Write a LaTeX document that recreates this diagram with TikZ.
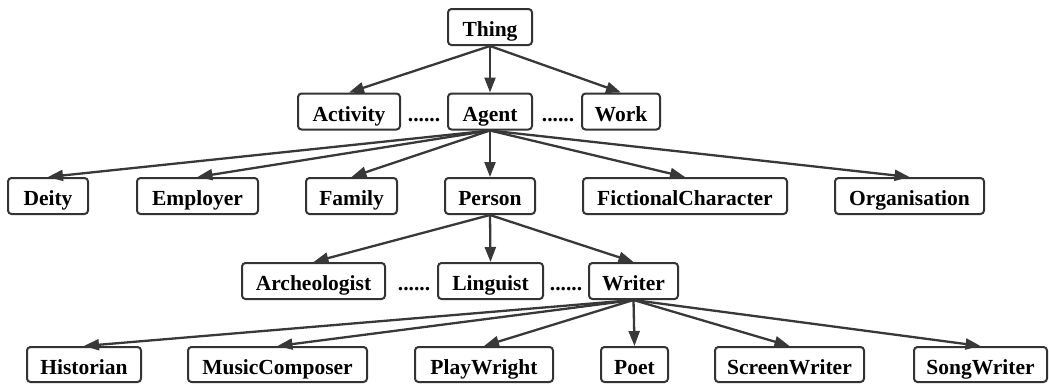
\documentclass[tikz,border=0pt]{standalone}
\usepackage{fontspec}
\setmainfont{Liberation Serif}
\usetikzlibrary{arrows.meta}
\definecolor{boxline}{HTML}{333333}
\definecolor{edgeline}{HTML}{383838}
\begin{document}
\begin{tikzpicture}[x=1pt,y=-1pt,
  box/.style={draw=boxline, line width=2pt, rounded corners=3.5pt, minimum height=36pt,
    inner xsep=0pt, inner ysep=0pt, text height=19pt, text depth=0pt,
    font=\fontsize{21.5}{24}\selectfont\bfseries, text=black},
  lastbox/.style={box, minimum height=35pt},
  dotsnode/.style={inner sep=0pt, font=\fontsize{21.5}{24}\selectfont\bfseries, text=black},
  edge/.style={draw=edgeline, line width=2.3pt, -{Triangle[length=15pt,width=11pt]}}]
\useasboundingbox (0,0) rectangle (1049,383);
% level 1
\node[box, minimum width=84pt] (Thing) at (490,27) {Thing};
% level 2
\node[box, minimum width=102pt] (Activity) at (349,111.5) {Activity};
\node[box, minimum width=84pt] (Agent) at (490,111.5) {Agent};
\node[box, minimum width=78pt] (Work) at (621,111.5) {Work};
\node[dotsnode, anchor=base] (d1) at (Agent.base -| 424,0) {......};
\node[dotsnode, anchor=base] (d2) at (Agent.base -| 558,0) {......};
% level 3
\node[box, minimum width=80pt] (Deity) at (48,196) {Deity};
\node[box, minimum width=121pt] (Employer) at (197.5,196) {Employer};
\node[box, minimum width=91pt] (Family) at (351.5,196) {Family};
\node[box, minimum width=90pt] (Person) at (490,196) {Person};
\node[box, minimum width=204pt] (Fictional) at (685,196) {FictionalCharacter};
\node[box, minimum width=149pt] (Organisation) at (909.5,196) {Organisation};
% level 4
\node[box, minimum width=143pt] (Archeologist) at (313.5,281) {Archeologist};
\node[box, minimum width=105pt] (Linguist) at (490.5,281) {Linguist};
\node[box, minimum width=89pt] (Writer) at (633.5,281) {Writer};
\node[dotsnode, anchor=base] (d3) at (Linguist.base -| 414,0) {......};
\node[dotsnode, anchor=base] (d4) at (Linguist.base -| 566,0) {......};
% level 5
\node[lastbox, minimum width=114pt] (Historian) at (84,364.5) {Historian};
\node[lastbox, minimum width=179pt] (MusicComposer) at (277.5,364.5) {MusicComposer};
\node[lastbox, minimum width=138pt] (PlayWright) at (484,364.5) {PlayWright};
\node[lastbox, minimum width=67pt] (Poet) at (634.5,364.5) {Poet};
\node[lastbox, minimum width=149pt] (ScreenWriter) at (789.5,364.5) {ScreenWriter};
\node[lastbox, minimum width=133pt] (SongWriter) at (980.5,364.5) {SongWriter};
% edges
\draw[edge] (Thing.south) -- (Activity.north);
\draw[edge] (Thing.south) -- (Agent.north);
\draw[edge] (Thing.south) -- (Work.north);
\draw[edge] (Agent.south) -- (Deity.north);
\draw[edge] (Agent.south) -- (Employer.north);
\draw[edge] (Agent.south) -- (Family.north);
\draw[edge] (Agent.south) -- (Person.north);
\draw[edge] (Agent.south) -- (Fictional.north);
\draw[edge] (Agent.south) -- (Organisation.north);
\draw[edge] (Person.south) -- (Archeologist.north);
\draw[edge] (Person.south) -- (Linguist.north);
\draw[edge] (Person.south) -- (Writer.north);
\draw[edge] (Writer.south) -- (Historian.north);
\draw[edge] (Writer.south) -- (MusicComposer.north);
\draw[edge] (Writer.south) -- (PlayWright.north);
\draw[edge] (Writer.south) -- (Poet.north);
\draw[edge] (Writer.south) -- (ScreenWriter.north);
\draw[edge] (Writer.south) -- (SongWriter.north);
\end{tikzpicture}
\end{document}
